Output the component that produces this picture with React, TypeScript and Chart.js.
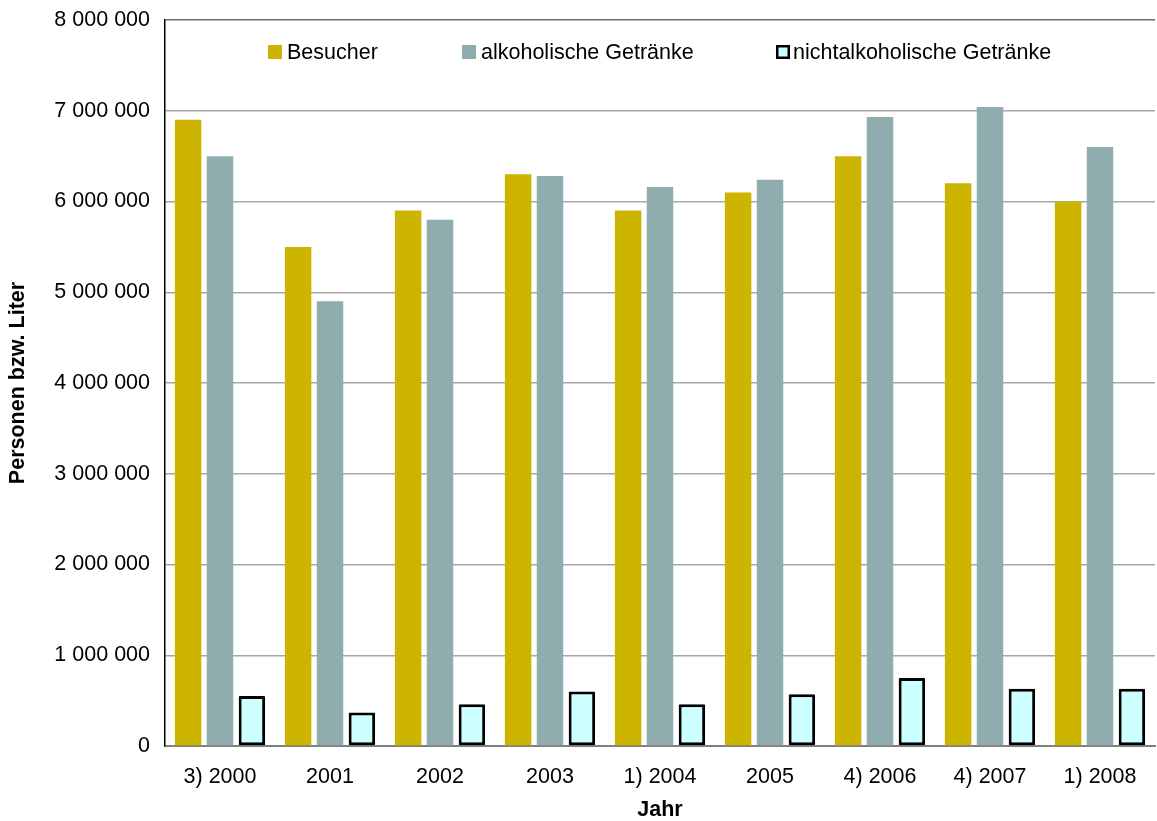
import React, { useEffect, useRef } from "react";
import { Chart, registerables } from "chart.js";

Chart.register(...registerables);

const categories = ["3) 2000", "2001", "2002", "2003", "1) 2004", "2005", "4) 2006", "4) 2007", "1) 2008"];
const besucher = [6900000, 5500000, 5900000, 6300000, 5900000, 6100000, 6500000, 6200000, 6000000];
const alkoholisch = [6500000, 4900000, 5800000, 6280000, 6160000, 6240000, 6930000, 7040000, 6600000];
const nichtalkoholisch = [550000, 370000, 460000, 600000, 460000, 570000, 750000, 630000, 630000];
const seriesNames = ["Besucher", "alkoholische Getränke", "nichtalkoholische Getränke"];
const yTicks = [0, 1000000, 2000000, 3000000, 4000000, 5000000, 6000000, 7000000, 8000000];

const FONT = "'Liberation Sans', Arial, sans-serif";
const FS = 21.5;
const C_BES = "#ccb400";
const C_ALK = "#8fadae";
const C_NON = "#ccffff";

function fmt(v: number) {
  return String(Math.round(v)).replace(/\B(?=(\d{3})+(?!\d))/g, " ");
}

const legendPlugin = {
  id: "inLegend",
  afterDraw(chart: any) {
    const ctx = chart.ctx;
    const area = chart.chartArea;
    const y = area.top + 32;
    const items = [
      { x: 268, color: C_BES, border: false },
      { x: 462, color: C_ALK, border: false },
      { x: 776, color: C_NON, border: true },
    ];
    ctx.save();
    ctx.font = `${FS}px ${FONT}`;
    ctx.textBaseline = "middle";
    items.forEach((it, i) => {
      ctx.fillStyle = it.color;
      ctx.fillRect(it.x, y - 7, 14, 14);
      if (it.border) {
        ctx.strokeStyle = "#000";
        ctx.lineWidth = 2.5;
        ctx.strokeRect(it.x + 1.25, y - 5.75, 11.5, 11.5);
      }
      ctx.fillStyle = "#000";
      ctx.fillText(seriesNames[i], it.x + (it.border ? 17 : 19), y + 1);
    });
    ctx.restore();
  },
};

export default function App() {
  const ref = useRef<HTMLCanvasElement>(null);
  useEffect(() => {
    document.body.style.margin = "0";
    const chart = new Chart(ref.current!, {
      type: "bar",
      data: {
        labels: categories,
        datasets: [
          { label: seriesNames[0], data: besucher, backgroundColor: C_BES, borderWidth: 0 },
          { label: seriesNames[1], data: alkoholisch, backgroundColor: C_ALK, borderWidth: 0 },
          {
            label: seriesNames[2],
            data: nichtalkoholisch,
            backgroundColor: C_NON,
            borderColor: "#000",
            borderWidth: 3,
            borderRadius: 1,
            borderSkipped: false,
          },
        ],
      },
      options: {
        animation: false,
        responsive: false,
        layout: { padding: { top: 20, right: 2, left: 0, bottom: 0 } },
        datasets: { bar: { categoryPercentage: 0.87, barPercentage: 0.83 } },
        plugins: { legend: { display: false }, tooltip: { enabled: false } },
        scales: {
          x: {
            afterFit(scale: any) {
              scale.height = 75;
              scale.paddingLeft = 0;
              scale.paddingRight = 0;
            },
            grid: { display: false, drawTicks: false },
            border: { color: "#808080", width: 2 },
            ticks: { color: "#000", font: { family: FONT, size: FS }, padding: 18, maxRotation: 0, autoSkip: false },
            title: { display: true, text: "Jahr", color: "#000", font: { family: FONT, size: FS, weight: "bold", lineHeight: 1 }, padding: { top: 0, bottom: 0 } },
          },
          y: {
            min: 0,
            max: 8000000,
            afterFit(scale: any) {
              scale.width = 165;
              scale.paddingTop = 0;
              scale.paddingBottom = 0;
            },
            afterBuildTicks(scale: any) {
              scale.ticks = yTicks.map((v) => ({ value: v }));
            },
            grid: {
              color: (c: any) => (c.tick && c.tick.value === 8000000 ? "#6e6e6e" : "#a6a6a6"),
              lineWidth: 1.5,
              drawTicks: false,
            },
            border: { color: "#000", width: 1.5 },
            ticks: { color: "#000", font: { family: FONT, size: FS }, padding: 15, callback: (v: any) => fmt(Number(v)) },
            title: { display: true, text: "Personen bzw. Liter", color: "#000", font: { family: FONT, size: 21.5, weight: "bold" }, padding: { top: 5, bottom: 0 } },
          },
        },
      },
      plugins: [legendPlugin],
    } as any);
    return () => chart.destroy();
  }, []);
  return <canvas ref={ref} width={1157} height={821} style={{ display: "block" }} />;
}
